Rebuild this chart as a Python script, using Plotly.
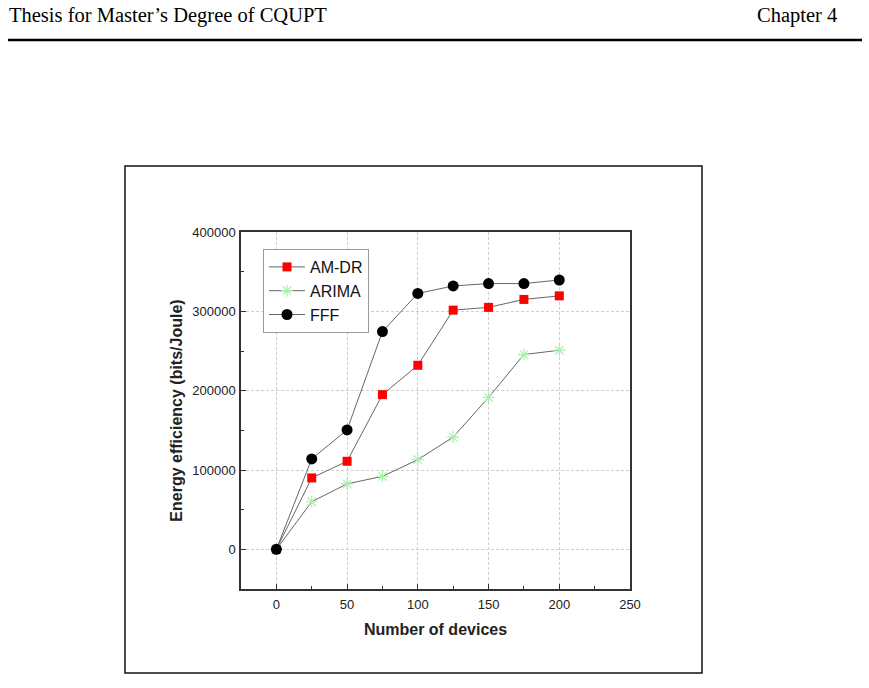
import plotly.graph_objects as go

devices = [0, 25, 50, 75, 100, 125, 150, 175, 200]
am_dr = [0, 90000, 111000, 195000, 232000, 301500, 305000, 315000, 319500]
arima = [0, 60000, 82500, 92000, 113000, 141500, 191500, 245500, 251000]
fff = [0, 114000, 150500, 274500, 322500, 332000, 335000, 335000, 339500]

x_ticks = [0, 50, 100, 150, 200, 250]
y_ticks = [0, 100000, 200000, 300000, 400000]

W, H = 869, 688
L, R, T, B = 241, 630, 232, 589

def px(x):
    return (x - L) / (R - L)

def py(y):
    return (B - y) / (B - T)

fig = go.Figure()
line = dict(color="#555555", width=0.9)
fig.add_trace(go.Scatter(x=devices, y=am_dr, name="AM-DR", mode="lines+markers",
                         line=line, marker=dict(symbol="square", size=9, color="#ff0000")))
fig.add_trace(go.Scatter(x=devices, y=arima, name="ARIMA", mode="lines+markers",
                         line=line, marker=dict(symbol="asterisk-open", size=10, color="#a8f0a8",
                                                line=dict(color="#a8f0a8", width=1.2))))
fig.add_trace(go.Scatter(x=devices, y=fff, name="FFF", mode="lines+markers",
                         line=line, marker=dict(symbol="circle", size=11, color="#000000")))

axis_common = dict(showline=True, linecolor="#333333", linewidth=1.5, mirror=True,
                   ticks="inside", ticklen=5, tickcolor="#333333",
                   showgrid=True, gridcolor="#cfcfcf", griddash="3px,2px", gridwidth=1,
                   zeroline=False,
                   tickfont=dict(family="Liberation Sans", size=13, color="#222222"))

fig.update_xaxes(range=[-25, 250], tickvals=x_ticks, ticklabelstandoff=3,
                 minor=dict(ticks="inside", ticklen=3, dtick=25, tick0=0, tickcolor="#333333", showgrid=False),
                 title=dict(text="<b>Number of devices</b>", standoff=12,
                            font=dict(family="Liberation Sans", size=16, color="#222222")),
                 **axis_common)
fig.update_yaxes(range=[-50000, 400000], tickvals=y_ticks, tickformat="d", ticklabelstandoff=1,
                 minor=dict(ticks="inside", ticklen=3, dtick=50000, tick0=0, tickcolor="#333333", showgrid=False),
                 title=dict(text="<b>Energy efficiency (bits/Joule)</b>", standoff=6,
                            font=dict(family="Liberation Sans", size=16, color="#222222")),
                 **axis_common)

shapes = [
    dict(type="rect", xref="paper", yref="paper", x0=px(125), x1=px(702), y0=py(166), y1=py(673),
         line=dict(color="#111111", width=1.5), fillcolor="rgba(0,0,0,0)", layer="below"),
    dict(type="line", xref="paper", yref="paper", x0=px(8), x1=px(862), y0=py(40), y1=py(40),
         line=dict(color="#000000", width=2.5)),
]

annotations = [
    dict(text="Thesis for Master\u2019s Degree of CQUPT", xref="paper", yref="paper",
         x=px(7), y=py(16), xanchor="left", yanchor="middle", showarrow=False,
         font=dict(family="Liberation Serif", size=20.5, color="#000000")),
    dict(text="Chapter 4", xref="paper", yref="paper",
         x=px(839), y=py(16), xanchor="right", yanchor="middle", showarrow=False,
         font=dict(family="Liberation Serif", size=20.5, color="#000000")),
]

fig.update_layout(
    width=W, height=H,
    margin=dict(l=L, r=W - R, t=T, b=H - B, pad=0),
    paper_bgcolor="white", plot_bgcolor="white",
    showlegend=True,
    legend=dict(x=px(263), y=py(249), xanchor="left", yanchor="top",
                bgcolor="white", bordercolor="#999999", borderwidth=1,
                font=dict(family="Liberation Sans", size=16, color="#111111"),
                tracegroupgap=0, itemwidth=36),
    shapes=shapes, annotations=annotations,
)

fig.write_html("out.html")
